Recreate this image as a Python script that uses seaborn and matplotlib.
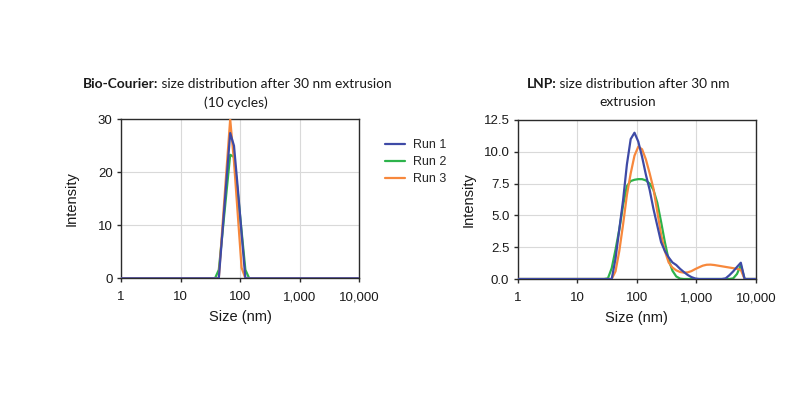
import numpy as np
import pandas as pd
import matplotlib
matplotlib.use("Agg")
import matplotlib.pyplot as plt
import seaborn as sns
from matplotlib.ticker import NullLocator
from matplotlib.lines import Line2D

# ---------------- data ----------------
runs = ["Run 1", "Run 2", "Run 3"]
colors = ["#3E4AA6", "#2DB34B", "#F7883C"]

# Bio-Courier (left)
size_bc = [1, 37.84, 43.82, 50.75, 58.77, 68.06, 78.82, 91.28, 105.7, 122.4, 141.8, 10000]
bc_run1 = [0, 0, 0, 9.1, 18.3, 27.4, 25.0, 17.0, 8.5, 0, 0, 0]
bc_run2 = [0, 0, 1.6, 8.8, 16.1, 23.3, 22.9, 16.2, 8.9, 1.6, 0, 0]
bc_run3 = [0, 0, 0, 10.2, 20.2, 30.0, 22.0, 12.0, 2.0, 0, 0, 0]

# LNP (right)
size_lnp = [1, 28.21, 32.67, 37.84, 43.82, 50.75, 58.77, 68.06, 78.82, 91.28, 105.7,
            122.4, 141.8, 164.2, 190.1, 220.2, 255.0, 295.3, 342.0, 396.1, 458.7,
            531.2, 615.1, 712.4, 825.0, 955.4, 1106, 1281, 1484, 1718, 1990,
            2305, 2669, 3091, 3580, 4145, 4801, 5560, 6439, 7456, 8635, 10000]
lnp_run1 = [0, 0, 0, 0, 1.6, 3.9, 6.2, 9.0, 11.0, 11.5, 10.8,
            9.6, 8.2, 7.0, 5.5, 4.2, 2.9, 2.2, 1.7, 1.3, 1.1,
            0.8, 0.55, 0.32, 0.15, 0.04, 0, 0, 0, 0, 0,
            0, 0, 0.05, 0.3, 0.6, 0.95, 1.28, 0, 0, 0, 0]
lnp_run2 = [0, 0, 0.05, 0.85, 2.3, 3.9, 5.8, 7.3, 7.7, 7.8, 7.85,
            7.85, 7.75, 7.5, 7.0, 6.0, 4.5, 2.9, 1.5, 0.65, 0.2,
            0.03, 0, 0, 0, 0, 0, 0, 0, 0, 0,
            0, 0, 0, 0, 0.05, 0.4, 1.1, 0, 0, 0, 0]
lnp_run3 = [0, 0, 0, 0, 0.6, 2.2, 4.3, 6.6, 8.3, 9.7, 10.4,
            10.2, 9.4, 8.3, 7.1, 5.3, 3.5, 2.2, 1.3, 0.9, 0.68,
            0.55, 0.5, 0.52, 0.62, 0.78, 0.92, 1.05, 1.12, 1.13, 1.1,
            1.05, 1.0, 0.95, 0.9, 0.85, 0.8, 0.72, 0, 0, 0, 0]

xticks = [1, 10, 100, 1000, 10000]
xticklabels = ["1", "10", "100", "1,000", "10,000"]
bc_yticks = [0, 10, 20, 30]
bc_yticklabels = ["0", "10", "20", "30"]
lnp_yticks = [0, 2.5, 5.0, 7.5, 10.0, 12.5]
lnp_yticklabels = ["0.0", "2.5", "5.0", "7.5", "10.0", "12.5"]


def long_df(sizes, series):
    frames = []
    for name, vals in zip(runs, series):
        frames.append(pd.DataFrame({"size": sizes, "intensity": vals, "run": name}))
    return pd.concat(frames, ignore_index=True)


df_bc = long_df(size_bc, [bc_run1, bc_run2, bc_run3])
df_lnp = long_df(size_lnp, [lnp_run1, lnp_run2, lnp_run3])

# ---------------- style ----------------
sns.set_theme(style="white")
plt.rcParams["font.family"] = ["Liberation Sans", "DejaVu Sans"]

W, H = 797, 399
fig = plt.figure(figsize=(W / 100, H / 100), dpi=100)

ax1 = fig.add_axes([121 / W, 1 - 278.3 / H, 238.3 / W, 159 / H])
ax2 = fig.add_axes([517.7 / W, 1 - 279 / H, 238.3 / W, 159 / H])

palette = dict(zip(runs, colors))
zorders = {"Run 1": 4, "Run 2": 2, "Run 3": 3}
LW = 1.6


def draw(ax, df, yticks, yticklabels, ymax):
    for name in ["Run 2", "Run 3", "Run 1"]:
        sub = df[df["run"] == name]
        sns.lineplot(data=sub, x="size", y="intensity", ax=ax, color=palette[name],
                     lw=LW, zorder=zorders[name], legend=False, estimator=None,
                     sort=False)
    ax.set_xscale("log")
    ax.set_xlim(1, 10000)
    ax.set_ylim(0, ymax)
    ax.set_xticks(xticks)
    ax.set_xticklabels(xticklabels)
    ax.xaxis.set_minor_locator(NullLocator())
    ax.set_yticks(yticks)
    ax.set_yticklabels(yticklabels)
    ax.grid(True, color="#D9D9D9", lw=0.8, zorder=0)
    ax.set_axisbelow(True)
    for s in ax.spines.values():
        s.set_visible(True)
        s.set_color("#2B2B2B")
        s.set_linewidth(1.0)
    ax.tick_params(axis="both", which="major", direction="out", length=3,
                   width=1.0, color="#2B2B2B", labelsize=9.5, labelcolor="#1A1A1A",
                   bottom=True, left=True)
    ax.tick_params(axis="x", pad=6.5)
    ax.tick_params(axis="y", pad=3)
    ax.set_xlabel("Size (nm)", fontsize=10.5, color="#1A1A1A", labelpad=5)
    ax.set_ylabel("Intensity", fontsize=10.5, color="#1A1A1A")
    ax.yaxis.set_label_coords(-0.178, 0.5)


draw(ax1, df_bc, bc_yticks, bc_yticklabels, 30)
draw(ax2, df_lnp, lnp_yticks, lnp_yticklabels, 12.5)

# legend
handles = [Line2D([0], [0], color=c, lw=LW) for c in colors]
fig.legend(handles, runs, loc="upper left", bbox_to_anchor=(385 / W, 1 - 139 / H),
           frameon=False, fontsize=9, handlelength=1.6, handletextpad=0.65,
           labelspacing=0.42, borderaxespad=0, borderpad=0)

# titles with a bold lead-in
fig.canvas.draw()
renderer = fig.canvas.get_renderer()
title_font = ["Lato", "DejaVu Sans"]
tsize = 9.9


def mixed_title(cx, cy, bold, rest):
    t1 = fig.text(0, 0, bold, fontsize=tsize, fontweight="bold", family=title_font,
                  ha="left", va="center", color="#1A1A1A")
    t2 = fig.text(0, 0, rest, fontsize=tsize, family=title_font, ha="left",
                  va="center", color="#1A1A1A")
    w1 = t1.get_window_extent(renderer).width
    w2 = t2.get_window_extent(renderer).width
    x0 = cx - (w1 + w2) / 2
    t1.set_position((x0 / W, 1 - cy / H))
    t2.set_position(((x0 + w1) / W, 1 - cy / H))


def plain_title(cx, cy, txt):
    fig.text(cx / W, 1 - cy / H, txt, fontsize=tsize, family=title_font,
             ha="center", va="center", color="#1A1A1A")


mixed_title(237.5, 84.5, "Bio-Courier:", " size distribution after 30 nm extrusion")
plain_title(236, 102.5, "(10 cycles)")
mixed_title(628, 84.5, "LNP:", " size distribution after 30 nm")
plain_title(627.5, 102.5, "extrusion")

fig.savefig("out.png", dpi=100, facecolor="white")
